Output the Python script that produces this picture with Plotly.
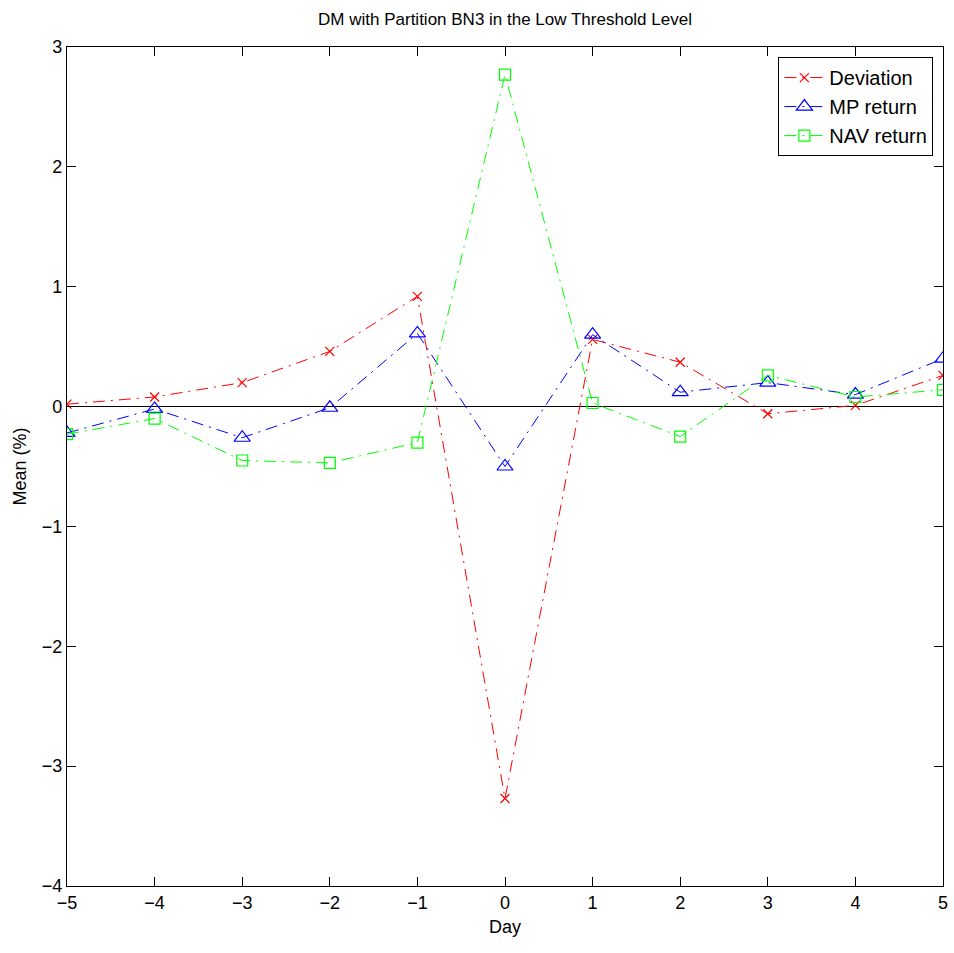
import plotly.graph_objects as go

days = [-5, -4, -3, -2, -1, 0, 1, 2, 3, 4, 5]
deviation = [0.02, 0.08, 0.20, 0.46, 0.92, -3.27, 0.56, 0.37, -0.06, 0.01, 0.26]
mp_return = [-0.22, -0.02, -0.26, -0.01, 0.61, -0.50, 0.60, 0.12, 0.20, 0.10, 0.40]
nav_return = [-0.23, -0.10, -0.45, -0.47, -0.30, 2.77, 0.03, -0.25, 0.26, 0.08, 0.14]

x_ticks = [-5, -4, -3, -2, -1, 0, 1, 2, 3, 4, 5]
y_ticks = [-4, -3, -2, -1, 0, 1, 2, 3]

FONT = "Liberation Sans Narrow, Arial Narrow, Liberation Sans, Arial, sans-serif"

def lab(v):
    return str(v).replace("-", "\u2212")

fig = go.Figure()
fig.add_trace(go.Scatter(x=days, y=deviation, name="Deviation", mode="lines+markers",
                         line=dict(color="#ff0000", width=1, dash="12px,6px,2px,6px"),
                         marker=dict(symbol="x-thin-open", size=9, color="#ff0000",
                                     line=dict(color="#ff0000", width=1.2))))
fig.add_trace(go.Scatter(x=days, y=mp_return, name="MP return", mode="lines+markers",
                         line=dict(color="#0000ff", width=1, dash="12px,6px,2px,6px"),
                         marker=dict(symbol="triangle-up-open", size=14, color="#0000ff",
                                     line=dict(color="#0000ff", width=1.2))))
fig.add_trace(go.Scatter(x=days, y=nav_return, name="NAV return", mode="lines+markers",
                         line=dict(color="#00ff00", width=1, dash="12px,6px,2px,6px"),
                         marker=dict(symbol="square-open", size=11, color="#00ff00",
                                     line=dict(color="#00ff00", width=1.2))))

fig.update_layout(
    width=954, height=953,
    margin=dict(l=67, r=6, t=47, b=67),
    paper_bgcolor="white", plot_bgcolor="white",
    font=dict(family=FONT, size=18, color="black"),
    title=dict(text="DM with Partition BN3 in the Low Threshold Level",
               x=0.5, xref="paper", xanchor="center", y=0.98, yanchor="middle",
               font=dict(family=FONT, size=17, color="black")),
    showlegend=True,
    legend=dict(x=0.989, y=0.988, xanchor="right", yanchor="top",
                bgcolor="white", bordercolor="black", borderwidth=1,
                font=dict(family=FONT, size=20), tracegroupgap=0, itemwidth=40),
)
fig.update_xaxes(range=[-5, 5], tickvals=x_ticks, ticktext=[lab(v) for v in x_ticks],
                 ticks="inside", ticklen=9, tickcolor="black", tickwidth=1,
                 showline=True, linecolor="black", linewidth=1.2, mirror="allticks",
                 showgrid=False, zeroline=False,
                 title=dict(text="Day", font=dict(family=FONT, size=18), standoff=8))
fig.update_yaxes(range=[-4, 3], tickvals=y_ticks, ticktext=[lab(v) for v in y_ticks],
                 ticks="inside", ticklen=9, tickcolor="black", tickwidth=1,
                 showline=True, linecolor="black", linewidth=1.2, mirror="allticks",
                 showgrid=False, zeroline=True, zerolinecolor="black", zerolinewidth=1.2,
                 title=dict(text="Mean (%)", font=dict(family=FONT, size=18), standoff=10))

fig.write_html("out.html")
